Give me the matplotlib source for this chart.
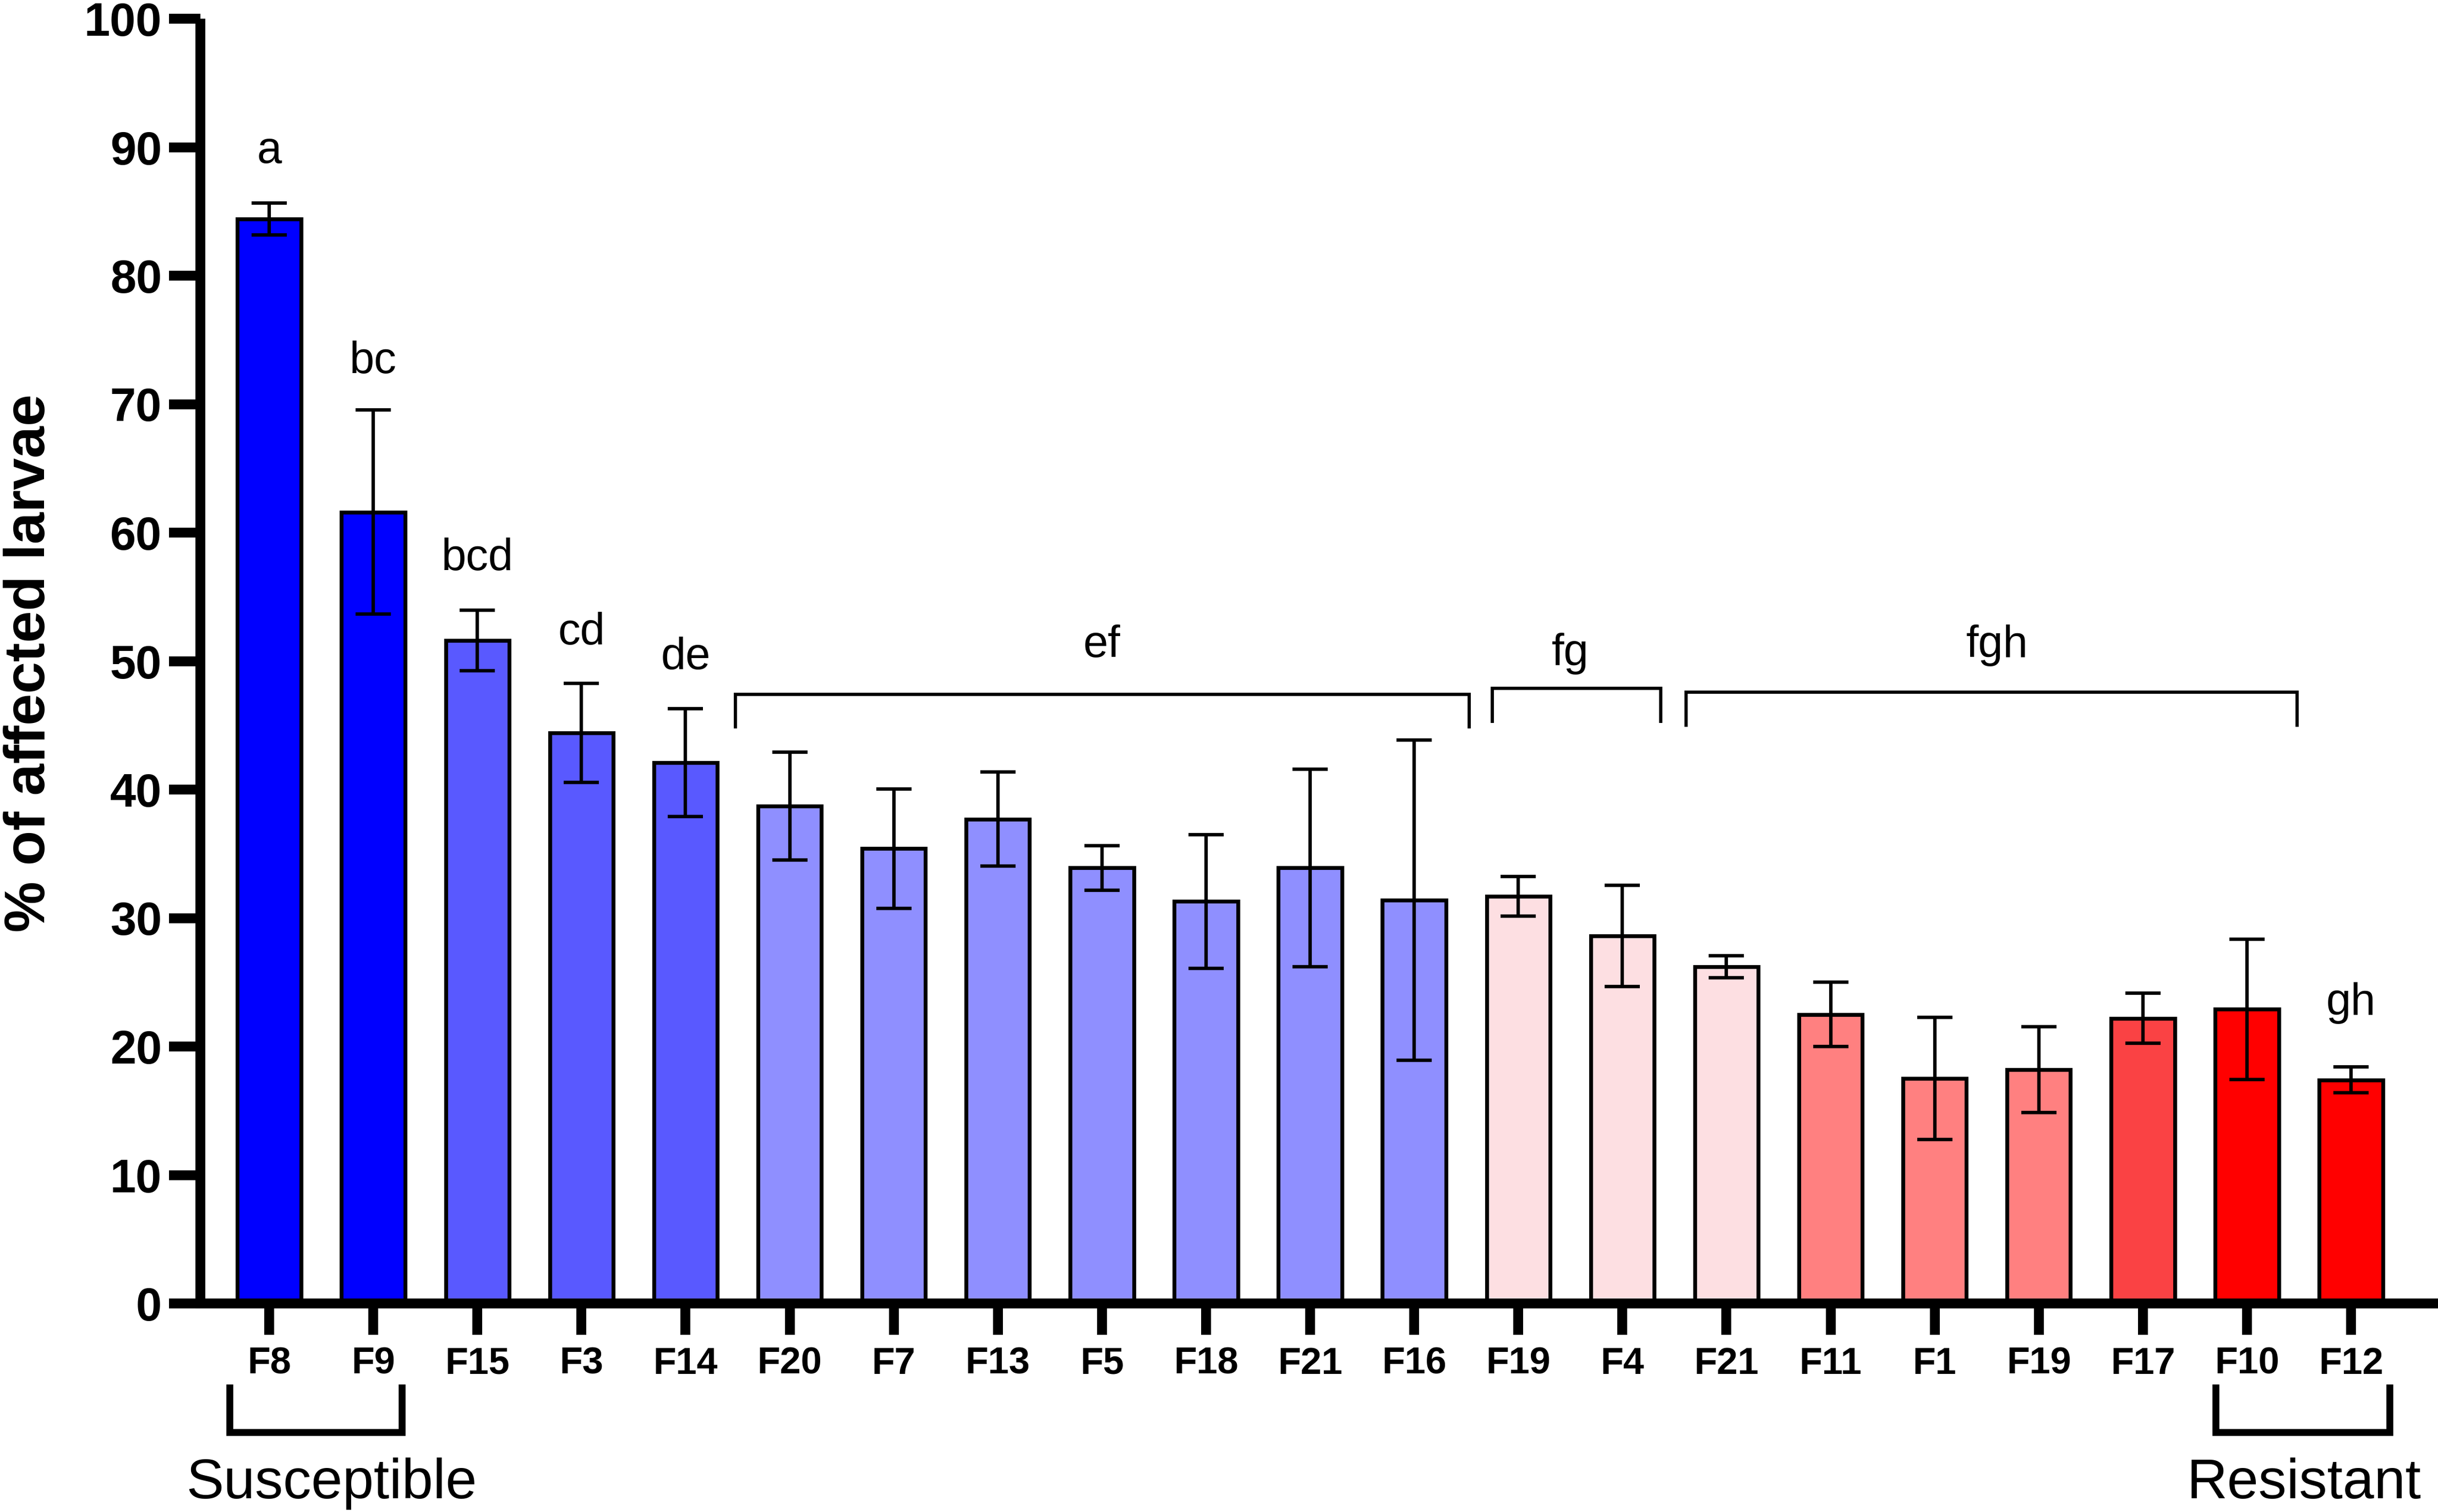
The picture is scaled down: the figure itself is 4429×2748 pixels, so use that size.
import matplotlib
matplotlib.use("Agg")
import matplotlib.pyplot as plt
import numpy as np

plt.rcParams['font.family'] = ['Liberation Sans', 'DejaVu Sans']

# ---- data ----
labels = ['F8', 'F9', 'F15', 'F3', 'F14', 'F20', 'F7', 'F13', 'F5', 'F18', 'F21',
          'F16', 'F19', 'F4', 'F21', 'F11', 'F1', 'F19', 'F17', 'F10', 'F12']
means = [84.4, 61.6, 51.6, 44.4, 42.1, 38.7, 35.4, 37.7, 33.9, 31.3, 33.9,
         31.4, 31.7, 28.6, 26.2, 22.5, 17.5, 18.2, 22.2, 22.9, 17.4]
errors = [1.25, 7.95, 2.35, 3.85, 4.2, 4.2, 4.65, 3.65, 1.75, 5.2, 7.7,
          12.45, 1.55, 3.95, 0.85, 2.5, 4.75, 3.35, 1.95, 5.45, 1.0]
colors = ['#0000FF', '#0000FF', '#5959FF', '#5959FF', '#5959FF',
          '#8F8FFF', '#8F8FFF', '#8F8FFF', '#8F8FFF', '#8F8FFF', '#8F8FFF', '#8F8FFF',
          '#FDDFE2', '#FDDFE2', '#FDDFE2',
          '#FF8080', '#FF8080', '#FF8080', '#FA4244', '#FF0000', '#FF0000']

# significance letters: (text, x, baseline y)
sig_letters = ['a', 'bc', 'bcd', 'cd', 'de', 'ef', 'fg', 'fgh', 'gh']
sig_x = [0, 1, 2, 3, 4, 8.0, 12.5, 16.6, 20]
sig_y = [88.8, 72.4, 57.1, 51.3, 49.4, 50.3, 49.7, 50.3, 22.5]

# group brackets: (x start, x end, top y, end y)
br_x0 = [4.48, 11.75, 13.61]
br_x1 = [11.53, 13.37, 19.48]
br_top = [47.4, 47.9, 47.6]
br_end = [44.9, 45.3, 45.0]

group_names = ['Susceptible', 'Resistant']
group_x0 = [-0.38, 18.70]
group_x1 = [1.275, 20.37]
group_text_x = [0.6, 19.55]

# ---- figure ----
W, H = 4429, 2748
dpi = 300
fig = plt.figure(figsize=(W / dpi, H / dpi), dpi=dpi)
ax = fig.add_axes([363.6 / W, 1 - 2369 / H, 1 - 363.6 / W, (2369 - 34) / H])

x = np.arange(len(labels))
ax.bar(x, means, width=0.61, color=colors, edgecolor='black', linewidth=1.7, zorder=2)
ax.errorbar(x, means, yerr=errors, fmt='none', ecolor='black', elinewidth=1.5,
            capsize=7.7, capthick=1.5, zorder=3)

ax.set_xlim(-0.663, 20.835)
ax.set_ylim(0, 100)
ax.set_yticks(np.arange(0, 101, 10))
ax.set_xticks(x)
ax.set_xticklabels(labels, fontsize=16.4, fontweight='bold')
for t in ax.get_yticklabels():
    t.set_fontsize(20.3)
    t.set_fontweight('bold')

for s in ['top', 'right']:
    ax.spines[s].set_visible(False)
for s in ['left', 'bottom']:
    ax.spines[s].set_linewidth(4.3)
ax.spines['left'].set_capstyle('butt')
ax.tick_params(axis='y', length=13.7, width=4.3, pad=3)
ax.tick_params(axis='x', length=13.7, width=4.3, pad=5)

# significance letters
for t, xx, yy in zip(sig_letters, sig_x, sig_y):
    ax.text(xx, yy, t, ha='center', va='baseline', fontsize=19.5, zorder=4)

# brackets above bars
for a0, a1, yt, ye in zip(br_x0, br_x1, br_top, br_end):
    ax.plot([a0, a0, a1, a1], [ye, yt, yt, ye], color='black', lw=1.4,
            solid_joinstyle='miter', zorder=4)

# group brackets below axis (axes-fraction y, data x)
trans = ax.get_xaxis_transform()
y_top = -(2522 - 2369) / (2369 - 34)
y_bot = -(2603 - 2369) / (2369 - 34)
y_txt = -(2723 - 2369) / (2369 - 34)
for name, a0, a1, tx in zip(group_names, group_x0, group_x1, group_text_x):
    ax.plot([a0, a0, a1, a1], [y_top, y_bot, y_bot, y_top], color='black', lw=3.0,
            transform=trans, clip_on=False, solid_joinstyle='miter')
    ax.text(tx, y_txt, name, transform=trans, ha='center', va='baseline',
            fontsize=24.5, clip_on=False)

# y-axis label
fig.text(81 / W, 1 - 1205 / H, '% of affected larvae', rotation=90,
         rotation_mode='anchor', ha='center', va='baseline',
         fontsize=25, fontweight='bold')

fig.savefig('out.png', dpi=dpi)
